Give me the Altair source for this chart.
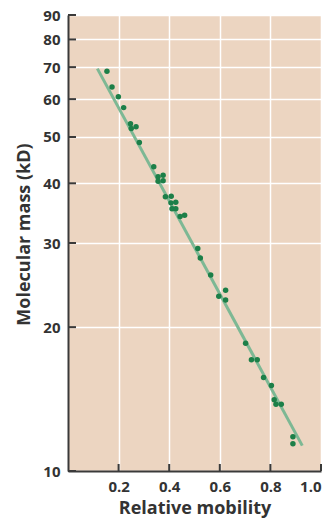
import altair as alt
import pandas as pd

# Data
mobility = [0.154, 0.174, 0.199, 0.220, 0.247, 0.250, 0.269, 0.282, 0.339, 0.356,
            0.376, 0.356, 0.376, 0.385, 0.408, 0.407, 0.426, 0.411, 0.426, 0.443,
            0.461, 0.513, 0.523, 0.564, 0.623, 0.596, 0.623, 0.702, 0.725, 0.748,
            0.773, 0.804, 0.815, 0.822, 0.843, 0.889, 0.889]
mass = [68.6, 63.6, 60.7, 57.6, 53.3, 52.1, 52.5, 48.7, 43.3, 41.3,
        41.6, 40.4, 40.5, 37.5, 37.6, 36.4, 36.5, 35.4, 35.4, 34.1,
        34.3, 29.2, 27.9, 25.7, 23.9, 23.2, 22.8, 18.5, 17.1, 17.1,
        15.7, 15.1, 14.1, 13.8, 13.8, 11.8, 11.4]

fit_x = [0.116, 0.926]
fit_y = [69.5, 11.3]

y_ticks = [10, 20, 30, 40, 50, 60, 70, 80, 90]
x_ticks = [0.2, 0.4, 0.6, 0.8, 1.0]

W, H = 253, 456
BG = "#ECD5C1"
AX = "#3a3a3a"
FONT = "Open Sans"

pts = pd.DataFrame({"x": mobility, "y": mass})
fit = pd.DataFrame({"x": fit_x, "y": fit_y})
yt = pd.DataFrame({"y": y_ticks})
xt = pd.DataFrame({"x": x_ticks})

xscale = alt.Scale(domain=[0, 1.0], nice=False, zero=False)
yscale = alt.Scale(type="log", domain=[10, 90], nice=False)

xaxis = alt.Axis(values=x_ticks, format=".1f", title="Relative mobility",
                 grid=True, gridColor="white", gridWidth=1.5,
                 ticks=False, labelPadding=8, labelFontSize=15, labelFont=FONT,
                 labelFontWeight="bold", labelColor="#333333",
                 titleFontSize=18, titleFont=FONT, titleFontWeight="bold",
                 titleColor="#333333", titlePadding=5,
                 domainColor=AX, domainWidth=2)
yaxis = alt.Axis(values=y_ticks, format="d", title="Molecular mass (kD)",
                 grid=True, gridColor="white", gridWidth=1.5,
                 ticks=False, labelPadding=8, labelFontSize=15, labelFont=FONT,
                 labelFontWeight="bold", labelColor="#333333",
                 titleFontSize=18, titleFont=FONT, titleFontWeight="bold",
                 titleColor="#333333", titlePadding=9, titleY=219,
                 domainColor=AX, domainWidth=2)

line = alt.Chart(fit).mark_line(color="#7DB894", strokeWidth=3).encode(
    x=alt.X("x:Q", scale=xscale, axis=xaxis),
    y=alt.Y("y:Q", scale=yscale, axis=yaxis),
)
points = alt.Chart(pts).mark_circle(color="#1C7F48", size=30, opacity=1).encode(
    x=alt.X("x:Q", scale=xscale),
    y=alt.Y("y:Q", scale=yscale),
)
ytick_marks = alt.Chart(yt).mark_rule(color=AX, strokeWidth=2).encode(
    y=alt.Y("y:Q", scale=yscale),
    x=alt.value(0), x2=alt.value(8),
)
xtick_marks = alt.Chart(xt).mark_rule(color=AX, strokeWidth=2).encode(
    x=alt.X("x:Q", scale=xscale),
    y=alt.value(H), y2=alt.value(H - 7),
)

chart = alt.layer(line, points, ytick_marks, xtick_marks).properties(
    width=W, height=H,
    autosize=alt.AutoSizeParams(type="none"),
    padding={"left": 60, "top": 7, "right": 6, "bottom": 50},
).configure_view(fill=BG, stroke=None)

chart.save("out.html", embed_options={"renderer": "svg", "actions": False})
